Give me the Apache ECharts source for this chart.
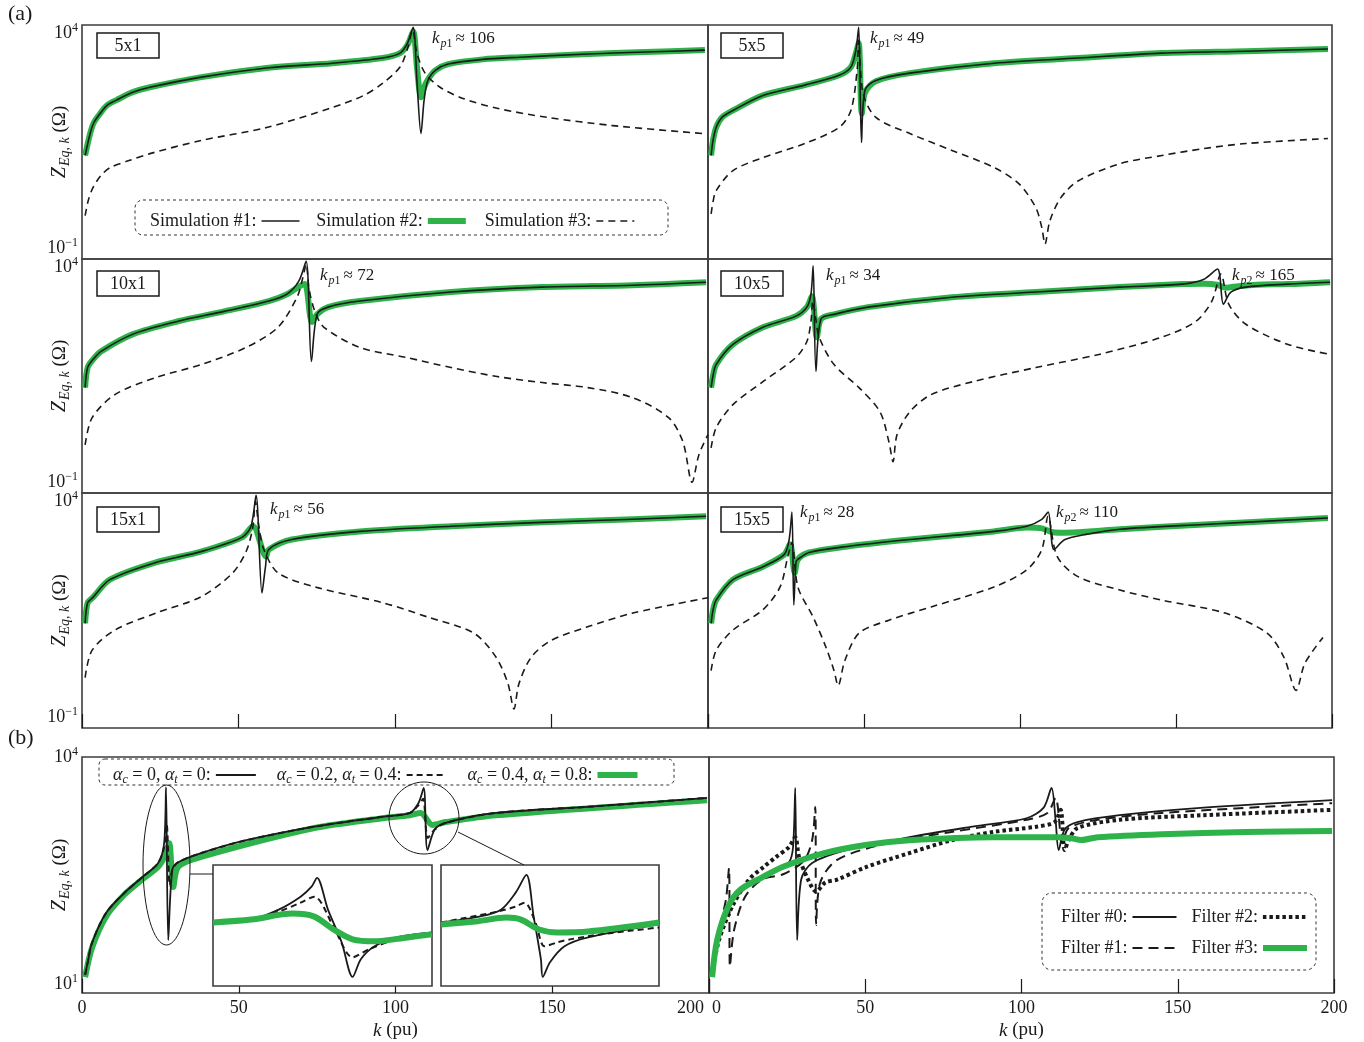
<!DOCTYPE html>
<html><head><meta charset="utf-8">
<script src="https://cdn.jsdelivr.net/npm/echarts@6/dist/echarts.min.js"></script>
<style>html,body{margin:0;padding:0;background:#fff}#c{width:1364px;height:1042px}</style>
</head><body><div id="c"></div><script>
// ---------------- DATA (k in pu, Z in ohm) ----------------
const xTicks = [0, 50, 100, 150, 200];
const yTickExpA = [4, -1];
const yTickExpB = [4, 1];
const panelTitles = ['5x1', '5x5', '10x1', '10x5', '15x1', '15x5'];
const kpNotes = [['p1', '106'], ['p1', '49'], ['p1', '72'], ['p1', '34'], ['p2', '165'], ['p1', '56'], ['p1', '28'], ['p2', '110']];
const simNames = ['Simulation #1', 'Simulation #2', 'Simulation #3'];
const alphaNames = ['αc = 0, αt = 0', 'αc = 0.2, αt = 0.4', 'αc = 0.4, αt = 0.8'];
const filterNames = ['Filter #0', 'Filter #1', 'Filter #2', 'Filter #3'];

const p5x1_sim1 = [[1,14.5],[2.6,47],[3.8,85],[5.8,138],[8,214],[11,282],[16,427],[21.7,562],[37.7,955],[59,1585],[80,2040],[96,2690],[101.6,3500],[104,6000],[105.8,14000],[107,810],[108.3,47],[109.3,282],[110.5,810],[113,1410],[117,1950],[128,2510],[140,2820],[160,3310],[180,3720],[199,4120]];
const p5x1_sim2 = [[1,14.5],[2.6,47],[3.8,85],[5.8,138],[8,214],[11,282],[16,427],[21.7,562],[37.7,955],[59,1585],[80,2040],[96,2690],[101.6,3500],[104,5500],[105.8,11000],[107,1700],[108.3,330],[109.3,560],[110.5,850],[113,1410],[117,1950],[128,2510],[140,2820],[160,3310],[180,3720],[199,4120]];
const p5x1_sim3 = [[1,0.575],[2,1.3],[3.5,2.57],[6,4.9],[9,7.6],[15,11],[21.7,16],[37.7,32],[59,65],[80,190],[90,363],[96,690],[101.6,1660],[104,4500],[105.6,12000],[107,3500],[109.6,1200],[114.4,562],[121.7,309],[132.6,182],[148.6,112],[169.6,72],[198.4,47]];

const p5x5_sim1 = [[1,14.5],[1.6,32],[2.6,65],[4.5,112],[8,162],[17.6,363],[31,631],[42,1070],[45.8,1660],[47.4,4120],[48.3,14000],[49.2,29],[50.3,479],[53.8,813],[64.7,1200],[91.7,2040],[118.6,2690],[145.5,3510],[172.4,3890],[198.7,4365]];
const p5x5_sim2 = [[1,14.5],[1.6,32],[2.6,65],[4.5,112],[8,162],[17.6,363],[31,631],[42,1070],[45.8,1660],[47.4,3500],[48.3,6000],[49.3,138],[50.3,420],[53.8,780],[64.7,1200],[91.7,2040],[118.6,2690],[145.5,3510],[172.4,3890],[198.7,4365]];
const p5x5_sim3 = [[1,0.63],[1.6,1.2],[2.6,2.19],[8,6.45],[17.6,12.9],[31,27.5],[42,65],[45.8,162],[47.8,1410],[48.3,7080],[49.7,407],[53.8,112],[64.7,47],[78.2,19],[91.7,7.6],[99.7,3.16],[105.1,0.87],[107,0.3],[108,0.126],[109.6,0.44],[113.1,1.51],[118.6,3.7],[132,9.3],[145.5,14.5],[159,21],[172.4,27.5],[198.7,36]];

const p10x1_sim1 = [[1,16],[1.8,47],[3.5,72],[6.1,112],[16.3,282],[30.7,562],[45.4,955],[59.7,1660],[65.5,2400],[69.3,4900],[71.6,14000],[73.3,65],[75.1,813],[78.6,1200],[88.8,1660],[117.9,2690],[147,3510],[176,3890],[199.4,4570]];
const p10x1_sim2 = [[1,16],[1.8,47],[3.5,72],[6.1,112],[16.3,282],[30.7,562],[45.4,955],[59.7,1660],[65.5,2400],[69.3,3600],[71.2,4120],[73.5,537],[75.1,813],[78.6,1200],[88.8,1660],[117.9,2690],[147,3510],[176,3890],[199.4,4570]];
const p10x1_sim3 = [[1,0.74],[3.2,3.16],[10.5,11],[23.6,27.5],[38,55],[52.4,138],[62.6,407],[68.7,2040],[70.6,6000],[71.6,12000],[72.6,3000],[74.4,955],[77.3,407],[88.8,138],[103.5,81],[117.9,47],[132.6,29],[147,21],[161.7,16],[176,9.3],[187.5,3.16],[192,0.87],[194.9,0.1],[197.1,0.44],[200,1.29]];

const p10x5_sim1 = [[1,16],[1.6,30],[2.6,55],[8,162],[17.6,407],[28.2,741],[31.7,1200],[33,2400],[33.7,11000],[34.6,38],[36.2,631],[40.4,813],[51.3,1200],[78.2,2040],[105.1,2690],[132,3510],[152,4120],[159,5370],[163.3,9300],[165.2,1410],[167.6,2690],[172.4,3510],[185.9,4120],[199.4,4570]];
const p10x5_sim2 = [[1,16],[1.6,30],[2.6,55],[8,162],[17.6,407],[28.2,741],[31.7,1200],[33.3,2140],[34.9,240],[36.2,631],[40.4,813],[51.3,1200],[78.2,2040],[105.1,2690],[132,3510],[152,4120],[159,4200],[163,4000],[166,3400],[170,3700],[176,4000],[185.9,4120],[199.4,4570]];
const p10x5_sim3 = [[1,0.63],[2.6,1.86],[8,6.45],[17.6,22],[28.2,81],[31.7,190],[33,562],[33.6,1660],[34.6,600],[35.6,240],[40.4,55],[48.4,16],[55.1,4.4],[58,0.87],[59.3,0.3],[60.6,1.29],[64.7,4.4],[71.5,11],[84.9,22],[105.1,47],[125.3,95],[145.5,240],[156.4,562],[161.5,1660],[164.4,7080],[166.9,1410],[172.4,479],[185.9,162],[199.4,95]];

const p15x1_sim1 = [[1,15],[1.8,45],[3.5,60],[8.9,155],[23.6,389],[38,692],[51.1,1480],[54,2690],[55.6,14000],[57.5,76],[58.6,300],[59.7,776],[67,1320],[88.8,2040],[117.9,2690],[147,3310],[176,3890],[199.4,4570]];
const p15x1_sim2 = [[1,15],[1.8,45],[3.5,60],[8.9,155],[23.6,389],[38,692],[51.1,1480],[54.6,2690],[58.8,537],[59.7,776],[67,1320],[88.8,2040],[117.9,2690],[147,3310],[176,3890],[199.4,4570]];
const p15x1_sim3 = [[1,0.83],[3.2,3.55],[10.5,10.5],[23.6,26],[38,62],[48.2,224],[52.7,776],[54.6,2690],[55.4,10000],[56.5,2690],[58.1,776],[62.6,224],[74.4,105],[96.2,45],[110.5,21],[125.2,8.9],[132.3,2.45],[136.1,0.6],[138,0.155],[139.6,0.6],[143.5,2.45],[149.8,6],[161.3,12.3],[176,26],[200,59]];

const p15x5_sim1 = [[1,15],[1.6,30],[2.6,52],[8,155],[17.6,309],[24.4,589],[26,1320],[26.9,5750],[27.5,40],[28.2,400],[28.8,457],[32.4,661],[44.6,912],[64.7,1320],[91.7,2040],[102.2,2690],[107,3890],[109,5750],[110.9,776],[114.4,1320],[121.2,1740],[132,2290],[159,2950],[198.7,4170]];
const p15x5_sim2 = [[1,15],[1.6,30],[2.6,52],[8,155],[17.6,309],[24.4,589],[26.3,1020],[27.8,224],[28.8,457],[32.4,661],[44.6,912],[64.7,1320],[91.7,2040],[102.2,2500],[107,2400],[110.5,1950],[114.4,1900],[121.2,2000],[132,2290],[159,2950],[198.7,4170]];
const p15x5_sim3 = [[1,1.2],[2.6,3.55],[8,10.5],[17.6,31],[23.1,105],[25.6,537],[26.9,1120],[28.8,105],[33.7,21],[37.8,4.2],[40.4,1.2],[41.7,0.54],[43.9,2.1],[48.4,8.9],[58,17.8],[71.5,36],[91.7,105],[102.2,263],[107,776],[109,4570],[111.9,537],[118.6,182],[132,89],[145.5,52],[165.7,26],[179.2,8.9],[184.6,2.45],[188.5,0.42],[191.3,1.78],[197.1,7.1]];

const bL_a0 = [[1,13.2],[2,21],[3.2,35],[7.7,87],[13.4,158],[19.2,257],[24.3,398],[26.2,724],[26.8,3980],[27.5,38],[28.8,324],[30.7,407],[38,537],[52.4,794],[74.1,1200],[95.8,1620],[104.5,1820],[107.3,2450],[109,3890],[110.2,589],[112.5,1100],[116,1350],[132,1820],[161,2190],[199.4,2880]];
const bL_a1 = [[1,13.2],[2,21],[3.2,35],[7.7,87],[13.4,158],[19.2,257],[24.3,398],[26.2,650],[27,1300],[28,200],[28.8,324],[30.7,407],[38,537],[52.4,794],[74.1,1200],[95.8,1620],[104.5,1820],[107.3,2300],[108.8,2800],[110.3,850],[112.5,1100],[116,1350],[132,1820],[161,2190],[199.4,2880]];
const bL_a2 = [[1,12.3],[3.2,30],[7.7,78],[13.4,150],[19.2,240],[24.3,355],[26.5,500],[27.8,724],[29.1,191],[30.7,355],[38,479],[74.1,1150],[95.8,1550],[104.5,1700],[108,1820],[111.8,1260],[116,1380],[132,1700],[199.4,2690]];

const in1_a0 = [[24,610],[25.4,647],[26.4,855],[27.2,1230],[27.6,1630],[27.8,2090],[28.2,855],[28.7,341],[29.1,129],[29.4,212],[29.9,305],[30.7,392],[32,451]];
const in1_a1 = [[24,610],[25.4,647],[26.4,809],[27.2,1040],[27.7,1230],[28.4,532],[29.1,224],[29.7,281],[30.7,371],[32,438]];
const in1_a2 = [[24,596],[25.4,647],[26.9,766],[27.7,703],[28.4,490],[29.1,371],[29.9,351],[31.1,392],[32,427]];
const in2_a0 = [[104,596],[106.1,703],[107.3,855],[108.1,1370],[108.7,2270],[109.1,703],[109.5,212],[109.6,129],[110,195],[110.8,305],[112.1,392],[116,564]];
const in2_a1 = [[104,596],[107.1,809],[108.1,931],[108.6,1040],[109.2,596],[109.7,305],[110.4,341],[111.1,371],[112.8,427],[116,518]];
const in2_a2 = [[104,564],[105.9,612],[107.6,684],[108.4,647],[109.4,490],[110.4,451],[112.1,463],[116,596]];

const bR_f0 = [[1,14],[2.6,38],[4.8,87],[8.7,141],[14.1,219],[20.8,302],[25.6,407],[26.9,646],[27.6,3890],[28.2,38],[29.5,240],[33,398],[43.9,589],[64.1,871],[84.3,1200],[101.6,1550],[107.1,2140],[109.6,3890],[110.9,1480],[111.9,589],[113.8,1100],[117.9,1380],[131.4,1700],[158.3,2140],[199.4,2690]];
const bR_f1 = [[1,14],[3.2,51],[5.4,129],[6.4,339],[6.7,17],[8,51],[11.5,141],[17,240],[23.7,282],[30.4,427],[33,794],[34,2190],[34.3,60],[35.6,219],[41,437],[57,724],[77.6,1020],[101.6,1480],[108.3,1820],[110.9,2880],[113.1,724],[115.1,1150],[124.4,1480],[144.9,1820],[199.4,2450]];
const bR_f2 = [[1,14],[3.2,38],[7.4,105],[12.8,240],[17.6,355],[21.5,479],[25.6,646],[27.6,871],[28.8,479],[31.7,240],[34.3,166],[37.2,219],[41,240],[50.6,355],[64.1,537],[77.6,794],[91,1020],[104.8,1200],[110.6,1380],[112.5,2000],[113.8,589],[115.1,794],[117.9,1150],[131.4,1480],[158.3,1700],[199.4,2000]];
const bR_f3 = [[1,12.3],[2.6,38],[6.1,105],[9.9,174],[17,257],[23.7,355],[36.9,537],[50.6,692],[64.1,794],[91,871],[111.2,871],[115.4,851],[119.2,800],[124.4,871],[144.9,955],[171.8,1020],[199.4,1050]];

// ---------------- LAYOUT / STYLE ----------------
const FONT = "'Liberation Serif','Times New Roman',serif";
const GREEN = '#2db34a';
const INK = '#1a1a1a';
const GRID_POS = [
  [82,25,626,234],[708,25,624,234],
  [82,259,626,234],[708,259,624,234],
  [82,493,626,235],[708,493,624,235],
  [82,757,627,236],[709,757,625,236],
  [213,865,219,121],[441,865,218,121]
];
const Y_RANGE_A = [0.05623, 15849];
const Y_RANGE_B = [7.59, 10000];
const Y_RANGE_IN = [100, 3000];

const grids = GRID_POS.map((p, i) => ({
  left: p[0], top: p[1], width: p[2], height: p[3], show: true,
  borderColor: '#3c3c3c', borderWidth: 1.6,
  backgroundColor: i >= 8 ? '#fff' : 'transparent',
  z: i >= 8 ? 10 : 0
}));

const supRich = {
  b: {fontSize: 18, fontFamily: FONT, color: INK},
  sup: {fontSize: 12, fontFamily: FONT, color: INK, padding: [0, 0, 11, 0]}
};
function yFmt(exps) {
  return v => {
    const e = Math.round(Math.log10(v) * 100) / 100;
    for (const t of exps) if (Math.abs(e - t) < 0.02) return '{b|10}{sup|' + String(t).replace('-', '−') + '}';
    return '';
  };
}
const yNameRich = {
  z: {fontStyle: 'italic', fontSize: 20, fontFamily: FONT, color: INK},
  s: {fontStyle: 'italic', fontSize: 14, fontFamily: FONT, color: INK, padding: [10, 0, 0, 1]},
  r: {fontSize: 19, fontFamily: FONT, color: INK}
};
const xRich = {
  m: {fontSize: 18, fontFamily: FONT, color: INK, padding: [0, 5, 0, 0]},
  n: {fontSize: 18, fontFamily: FONT, color: INK, padding: [0, 0, 0, 3]}
};

const xAxes = GRID_POS.map((p, i) => {
  if (i >= 8) return {gridIndex: i, type: 'value', min: i === 8 ? 24 : 104, max: i === 8 ? 32 : 116, show: false};
  const bottomRow = i >= 4;
  const labelled = i >= 6;
  return {
    gridIndex: i, type: 'value', min: xTicks[0], max: xTicks[xTicks.length - 1], interval: 50,
    axisLine: {show: false}, splitLine: {show: false},
    axisTick: {show: bottomRow, inside: true, length: 14, lineStyle: {color: INK, width: 1.2}},
    axisLabel: {show: labelled, fontSize: 18, fontFamily: FONT, color: INK, margin: 6,
      alignMaxLabel: i === 6 ? 'right' : null, alignMinLabel: i === 7 ? 'left' : null,
      formatter: v => (i === 6 && v === 200) ? '{m|200}' : ((i === 7 && v === 0) ? '{n|0}' : String(v)),
      rich: xRich},
    name: labelled ? '{i|k}{r| (pu)}' : '', nameLocation: 'middle', nameGap: 28,
    nameTextStyle: {rich: {i: {fontStyle: 'italic', fontSize: 19, fontFamily: FONT, color: INK}, r: {fontSize: 19, fontFamily: FONT, color: INK}}}
  };
});

const yAxes = GRID_POS.map((p, i) => {
  const range = i >= 8 ? Y_RANGE_IN : (i >= 6 ? Y_RANGE_B : Y_RANGE_A);
  const leftCol = (i % 2 === 0) && i < 8;
  return {
    gridIndex: i, type: 'log', logBase: 10, min: range[0], max: range[1], show: i < 8,
    axisLine: {show: false}, axisTick: {show: false}, splitLine: {show: false}, minorTick: {show: false},
    axisLabel: {show: leftCol, margin: 4, formatter: yFmt(i >= 6 ? yTickExpB : yTickExpA), rich: supRich},
    name: leftCol ? '{z|Z}{s|Eq, k}{r| (Ω)}' : '', nameLocation: 'middle', nameRotate: 90, nameGap: 10,
    nameMoveOverlap: false,
    nameTextStyle: {rich: yNameRich}
  };
});

function line(name, data, gi, st, z) {
  return {
    type: 'line', name, data, xAxisIndex: gi, yAxisIndex: gi, symbol: 'none', showSymbol: false,
    smooth: 0.3, silent: true, z: z,
    itemStyle: {color: st.color},
    lineStyle: {color: st.color, width: st.width, type: st.type || 'solid', cap: 'butt', join: 'round'}
  };
}
const ST = {
  solid: {color: INK, width: 1.6},
  green: {color: GREEN, width: 6},
  dash: {color: INK, width: 1.6, type: [7, 5]},
  bSolid: {color: INK, width: 1.8},
  bDash: {color: INK, width: 2, type: [6, 4]},
  fLong: {color: INK, width: 2, type: [10, 6]},
  fDot: {color: INK, width: 4, type: [3.5, 3]}
};

const panels = [
  [p5x1_sim1, p5x1_sim2, p5x1_sim3], [p5x5_sim1, p5x5_sim2, p5x5_sim3],
  [p10x1_sim1, p10x1_sim2, p10x1_sim3], [p10x5_sim1, p10x5_sim2, p10x5_sim3],
  [p15x1_sim1, p15x1_sim2, p15x1_sim3], [p15x5_sim1, p15x5_sim2, p15x5_sim3]
];
const series = [];
panels.forEach((d, gi) => {
  series.push(line(simNames[0], d[0], gi, ST.solid, 4));
  series.push(line(simNames[1], d[1], gi, ST.green, 2));
  series.push(line(simNames[2], d[2], gi, ST.dash, 3));
});
series.push(line(alphaNames[0], bL_a0, 6, ST.bSolid, 4));
series.push(line(alphaNames[1], bL_a1, 6, ST.bDash, 4));
series.push(line(alphaNames[2], bL_a2, 6, ST.green, 3));
series.push(line(alphaNames[0], in1_a0, 8, ST.bSolid, 12));
series.push(line(alphaNames[1], in1_a1, 8, ST.bDash, 13));
series.push(line(alphaNames[2], in1_a2, 8, ST.green, 14));
series.push(line(alphaNames[0], in2_a0, 9, ST.bSolid, 12));
series.push(line(alphaNames[1], in2_a1, 9, ST.bDash, 13));
series.push(line(alphaNames[2], in2_a2, 9, ST.green, 14));
series.push(line(filterNames[0], bR_f0, 7, ST.bSolid, 3));
series.push(line(filterNames[1], bR_f1, 7, ST.fLong, 3));
series.push(line(filterNames[2], bR_f2, 7, ST.fDot, 3));
series.push(line(filterNames[3], bR_f3, 7, ST.green, 4));

const legRich = {
  a: {fontStyle: 'italic', fontSize: 18, fontFamily: FONT, color: INK},
  s: {fontStyle: 'italic', fontSize: 12, fontFamily: FONT, color: INK, padding: [9, 0, 0, 0]}
};
const legItem = (name, st) => ({name, lineStyle: {width: st.width, type: st.type || 'solid', color: st.color}});
function legend(data, left, top, gap, iw) {
  return {
    data, left, top, orient: 'horizontal', align: 'right', selectedMode: false,
    itemWidth: iw, itemHeight: 14, itemGap: gap,
    itemStyle: {opacity: 0},
    textStyle: {fontSize: 18, fontFamily: FONT, color: INK, rich: legRich},
    formatter: n => n.replace(/α([ct])/g, '{a|α}{s|$1}') + ':'
  };
}

// ---------------- ANNOTATIONS ----------------
const kpPos = [[432,39],[870,39],[320,276],[826,276],[1232,276],[270,510],[800,513],[1056,513]];
const boxPos = [[97,33],[721,33],[97,271],[721,271],[97,507],[721,507]];
const kpRich = {
  k: {fontStyle: 'italic', fontSize: 17, fontFamily: FONT, fill: INK},
  p: {fontStyle: 'italic', fontSize: 12, fontFamily: FONT, fill: INK, padding: [9, 0, 0, 1]},
  n: {fontSize: 12, fontFamily: FONT, fill: INK, padding: [9, 3, 0, 0]},
  t: {fontSize: 17, fontFamily: FONT, fill: INK}
};
const graphic = [
  {type: 'text', x: 8, y: 3, z: 100, style: {text: '(a)', fontSize: 22, fontFamily: FONT, fill: INK}},
  {type: 'text', x: 8, y: 727, z: 100, style: {text: '(b)', fontSize: 22, fontFamily: FONT, fill: INK}}
];
panelTitles.forEach((t, i) => {
  const [x, y] = boxPos[i];
  graphic.push({type: 'rect', z: 100, shape: {x, y, width: 62, height: 25}, style: {fill: '#fff', stroke: INK, lineWidth: 1.5}});
  graphic.push({type: 'text', z: 101, x: x + 31, y: y + 13, style: {text: t, align: 'center', verticalAlign: 'middle', fontSize: 18, fontFamily: FONT, fill: INK}});
});
kpNotes.forEach((n, i) => {
  const [x, y] = kpPos[i];
  graphic.push({type: 'text', z: 100, x, y, style: {text: '{k|k}{p|' + n[0][0] + '}{n|' + n[0][1] + '}{t|≈ ' + n[1] + '}', rich: kpRich, verticalAlign: 'middle'}});
});
const dashBox = (x, y, w, h, r) => ({type: 'rect', z: 90, shape: {x, y, width: w, height: h, r}, style: {fill: 'none', stroke: '#333', lineWidth: 1, lineDash: [3, 3]}});
graphic.push(dashBox(135, 200, 533, 35, 8));
graphic.push(dashBox(99, 759, 575, 26, 6));
graphic.push(dashBox(1042, 893, 274, 77, 10));
graphic.push({type: 'ellipse', z: 100, shape: {cx: 166.5, cy: 865, rx: 23.5, ry: 80}, style: {fill: 'none', stroke: INK, lineWidth: 1}});
graphic.push({type: 'ellipse', z: 100, shape: {cx: 424, cy: 818, rx: 35, ry: 36}, style: {fill: 'none', stroke: INK, lineWidth: 1}});
graphic.push({type: 'line', z: 100, shape: {x1: 190, y1: 874, x2: 213, y2: 874}, style: {stroke: INK, lineWidth: 1}});
graphic.push({type: 'line', z: 100, shape: {x1: 458, y1: 832, x2: 524, y2: 865}, style: {stroke: INK, lineWidth: 1}});

const chart = echarts.init(document.getElementById('c'), null, {renderer: 'canvas'});
chart.setOption({
  animation: false,
  backgroundColor: '#fff',
  grid: grids,
  xAxis: xAxes,
  yAxis: yAxes,
  legend: [
    legend([legItem(simNames[0], ST.solid), legItem(simNames[1], ST.green), legItem(simNames[2], ST.dash)], 145, 207, 16, 38),
    legend([legItem(alphaNames[0], ST.bSolid), legItem(alphaNames[1], ST.bDash), legItem(alphaNames[2], ST.green)], 108, 761, 20, 40),
    legend([legItem(filterNames[0], ST.bSolid), legItem(filterNames[2], ST.fDot)], 1056, 903, 14, 44),
    legend([legItem(filterNames[1], ST.fLong), legItem(filterNames[3], ST.green)], 1056, 934, 14, 44)
  ],
  series,
  graphic
});
</script></body></html>
